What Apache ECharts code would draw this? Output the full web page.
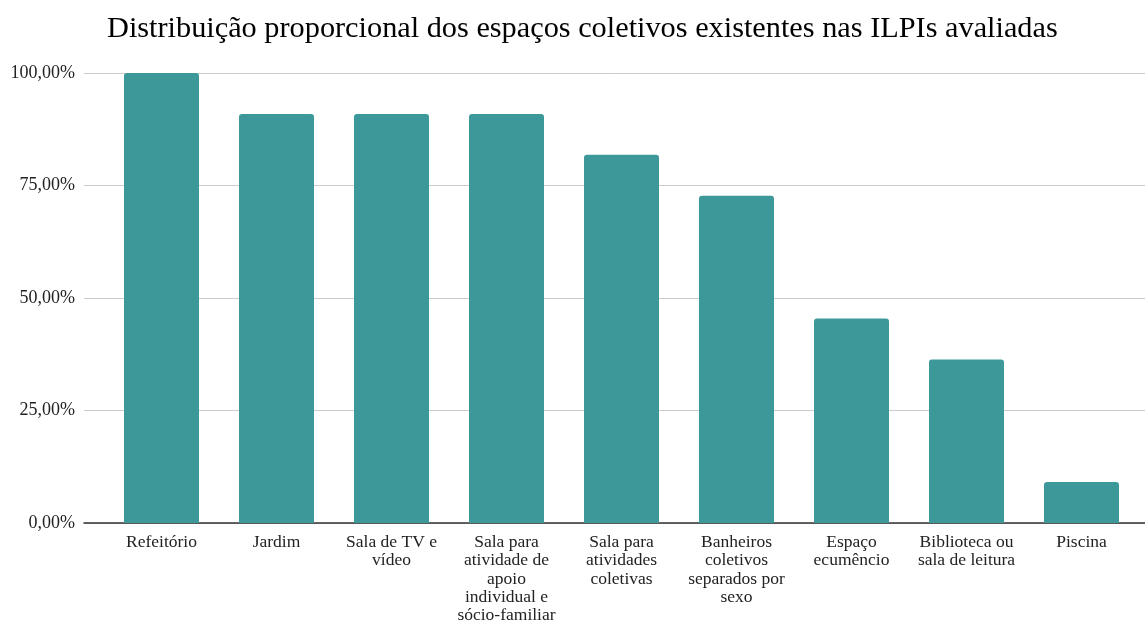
<!DOCTYPE html>
<html><head><meta charset="utf-8">
<script src="https://cdn.jsdelivr.net/npm/echarts@6/dist/echarts.min.js"></script>
<style>html,body{margin:0;padding:0;background:#fff}#c{width:1145px;height:621px}</style>
</head><body><div id="c"></div>
<script>
const categories = ["Refeitório","Jardim","Sala de TV e\nvídeo","Sala para\natividade de\napoio\nindividual e\nsócio-familiar","Sala para\natividades\ncoletivas","Banheiros\ncoletivos\nseparados por\nsexo","Espaço\necumêncio","Biblioteca ou\nsala de leitura","Piscina"];
const values = [100, 90.91, 90.91, 90.91, 81.82, 72.73, 45.45, 36.36, 9.09];
const yTicks = [0, 25, 50, 75, 100];
const titleText = "Distribuição proporcional dos espaços coletivos existentes nas ILPIs avaliadas";

const font = "Liberation Serif";
const chart = echarts.init(document.getElementById('c'));
const fmt = v => v.toFixed(2).replace('.', ',') + '%';
chart.setOption({
  animation: false,
  title: {text: titleText, left: 102, top: 9, textStyle: {fontFamily: font, fontSize: 30.3, fontWeight: 'normal', color: '#000'}},
  grid: [
    {left: 84, right: 0, top: 73, bottom: 98, outerBoundsMode: 'none', containLabel: false},
    {left: 104, right: 6, top: 73, bottom: 98, outerBoundsMode: 'none', containLabel: false}
  ],
  xAxis: [
    {gridIndex: 0, type: 'category', data: categories, axisLabel: {show: false}, axisTick: {show: false},
     axisLine: {lineStyle: {color: '#333', width: 1.5}}},
    {gridIndex: 1, type: 'category', data: categories, axisTick: {show: false}, axisLine: {show: false},
     axisLabel: {fontFamily: font, fontSize: 17.5, color: '#222', lineHeight: 18.4, margin: 10, interval: 0}}
  ],
  yAxis: [
    {gridIndex: 0, type: 'value', min: yTicks[0], max: yTicks[yTicks.length - 1], interval: 25,
     axisLabel: {fontFamily: font, fontSize: 18, color: '#222', margin: 9, formatter: fmt},
     splitLine: {lineStyle: {color: '#cccccc'}}, axisLine: {show: false}, axisTick: {show: false}},
    {gridIndex: 1, type: 'value', min: yTicks[0], max: yTicks[yTicks.length - 1], interval: 25, show: false}
  ],
  series: [{
    type: 'bar', xAxisIndex: 1, yAxisIndex: 1, data: values, barWidth: 75,
    itemStyle: {color: '#3d9999', borderRadius: [3, 3, 0, 0]}
  }]
});
</script></body></html>
